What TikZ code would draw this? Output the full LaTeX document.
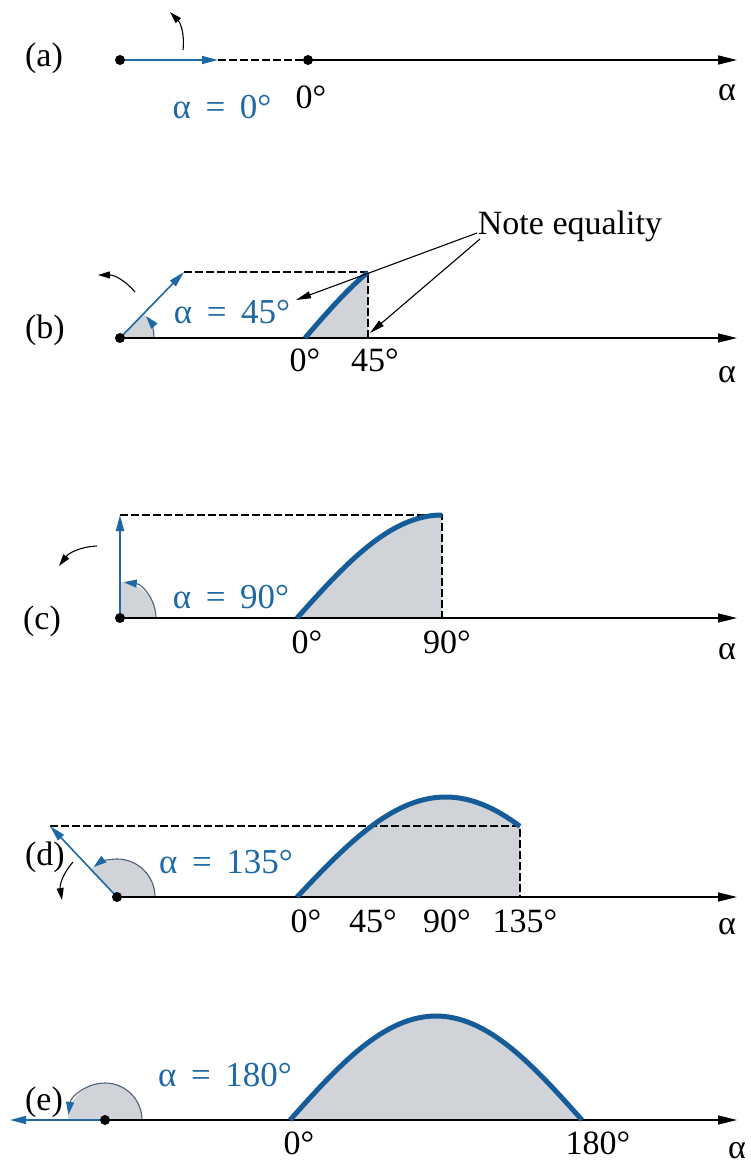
\documentclass[tikz,border=0pt]{standalone}
\usepackage{fontspec}
\setmainfont{Liberation Serif}
\usetikzlibrary{arrows.meta}
\definecolor{vblue}{RGB}{30,105,165}
\definecolor{cblue}{RGB}{22,92,152}
\definecolor{sgray}{RGB}{208,211,215}
\definecolor{arcc}{RGB}{80,95,115}
\newcommand{\eqsp}{\hspace{0.42em}=\hspace{0.42em}}
\begin{document}
\begin{tikzpicture}[x=1pt,y=1pt,
  lbl/.style={font=\fontsize{34}{40}\selectfont, inner sep=0pt},
  blbl/.style={font=\fontsize{35}{40}\selectfont, inner sep=0pt, text=vblue},
  axis/.style={line width=1.6pt, -{Triangle[length=19pt,width=9pt]}},
  vec/.style={vblue, line width=1.6pt, -{Triangle[length=16pt,width=8pt]}},
  dsh/.style={line width=1.1pt, dash pattern=on 8pt off 3pt},
  wave/.style={cblue, line width=5pt},
  shade/.style={fill=sgray},
  dot/.style={circle, fill=black, inner sep=0pt, minimum size=10pt},
  rot/.style={line width=1.1pt, -{Triangle[length=12pt,width=7pt]}, bend right=25},
  ann/.style={line width=1.1pt, -{Triangle[length=15pt,width=7pt]}},
  arcl/.style={arcc, line width=1.1pt, -{Triangle[length=13pt,width=8pt,color=vblue]}}
]
\useasboundingbox (0,-1165) rectangle (751,0);

% ---------- (a) ----------
\coordinate (Oa) at (120,-60);
\coordinate (Za) at (308,-60);
\coordinate (Va) at (218,-60);
\coordinate (Ea) at (737,-60);
\draw[dsh] (Va) -- (Za);
\draw[axis] (Za) -- (Ea);
\draw[vec] (Oa) -- (Va);
\node[dot] (dA1) at (Oa) {};
\node[dot] (dA2) at (Za) {};
\node[lbl] (la) at (44,-58) {(a)};
\node[blbl] (ala) at (222,-107) {α\eqsp 0°};
\node[lbl] (za) at (311,-97) {0°};
\node[lbl] (xa) at (727,-93) {α};
\coordinate (ra1) at (183,-50);
\coordinate (ra2) at (170,-12);
\draw[rot] (ra1) to (ra2);

% ---------- (b) ----------
\coordinate (Ob) at (120,-338);
\coordinate (Vb) at (184,-272);
\coordinate (Pb) at (368,-272);
\coordinate (Fb) at (368,-338);
\coordinate (Zb) at (305,-338);
\coordinate (Eb) at (737,-338);
\fill[shade] (Zb) -- plot[domain=0:45,samples=30] ({305+\x/45*63},{-338+93*sin(\x)}) -- (Fb) -- cycle;
\fill[shade] (Ob) -- ++(0:34) arc[start angle=0,end angle=45,radius=34] -- cycle;
\draw[arcl] (Ob) ++(0:34) arc[start angle=0,end angle=40,radius=34];
\draw[dsh] (Vb) -- (Pb) -- (Fb);
\draw[axis] (Ob) -- (Eb);
\draw[wave] plot[domain=0:45,samples=30] ({305+\x/45*63},{-338+93*sin(\x)});
\draw[vec] (Ob) -- (Vb);
\node[dot] (dB) at (Ob) {};
\node[lbl] (lb) at (45,-330) {(b)};
\node[blbl] (alb) at (232,-312) {α\eqsp 45°};
\node[lbl] (zb) at (305,-360) {0°};
\node[lbl] (fb) at (375,-360) {45°};
\node[lbl] (xb) at (727,-375) {α};
\coordinate (rb1) at (135,-292);
\coordinate (rb2) at (98,-275);
\draw[rot] (rb1) to (rb2);
\node[lbl] (ne) at (570,-226) {Note equality};
\coordinate (n1) at (477,-233);
\coordinate (n2) at (480,-239);
\coordinate (t1) at (296,-300);
\coordinate (t2) at (370,-333);
\draw[ann] (n1) -- (t1);
\draw[ann] (n2) -- (t2);

% ---------- (c) ----------
\coordinate (Oc) at (120,-618);
\coordinate (Vc) at (120,-515);
\coordinate (Pc) at (442,-515);
\coordinate (Fc) at (442,-618);
\coordinate (Zc) at (297,-618);
\coordinate (Ec) at (737,-618);
\fill[shade] (Zc) -- plot[domain=0:90,samples=40] ({297+\x/90*145},{-618+103*sin(\x)}) -- (Fc) -- cycle;
\fill[shade] (Oc) -- ++(0:36) arc[start angle=0,end angle=90,radius=36] -- cycle;
\draw[arcl] (Oc) ++(0:36) arc[start angle=0,end angle=84,radius=36];
\draw[dsh] (Vc) -- (Pc) -- (Fc);
\draw[axis] (Oc) -- (Ec);
\draw[wave] plot[domain=0:90,samples=40] ({297+\x/90*145},{-618+103*sin(\x)});
\draw[vec] (Oc) -- (Vc);
\node[dot] (dC) at (Oc) {};
\node[lbl] (lc) at (42,-621) {(c)};
\node[blbl] (alc) at (231,-597) {α\eqsp 90°};
\node[lbl] (zc) at (307,-642) {0°};
\node[lbl] (nc) at (447,-642) {90°};
\node[lbl] (xc) at (727,-652) {α};
\coordinate (rc1) at (97,-546);
\coordinate (rc2) at (59,-566);
\draw[rot] (rc1) to (rc2);

% ---------- (d) ----------
\coordinate (Od) at (117,-897);
\coordinate (Vd) at (50,-826);
\coordinate (Pd) at (520,-826);
\coordinate (Fd) at (520,-897);
\coordinate (Zd) at (297,-897);
\coordinate (Ed) at (737,-897);
\fill[shade] (Zd) -- plot[domain=0:135,samples=50] ({297+\x/135*223},{-897+100*sin(\x)}) -- (Fd) -- cycle;
\fill[shade] (Od) -- ++(0:38) arc[start angle=0,end angle=135,radius=38] -- cycle;
\draw[arcl] (Od) ++(0:38) arc[start angle=0,end angle=128,radius=38];
\draw[dsh] (Vd) -- (Pd) -- (Fd);
\draw[axis] (Od) -- (Ed);
\draw[wave] plot[domain=0:135,samples=50] ({297+\x/135*223},{-897+100*sin(\x)});
\draw[vec] (Od) -- (Vd);
\node[dot] (dD) at (Od) {};
\node[lbl] (ld) at (45,-857) {(d)};
\node[blbl] (ald) at (226,-862) {α\eqsp 135°};
\node[lbl] (zd) at (306,-921) {0°};
\node[lbl] (fd) at (373,-921) {45°};
\node[lbl] (nd) at (447,-921) {90°};
\node[lbl] (td) at (525,-921) {135°};
\node[lbl] (xd) at (727,-927) {α};
\coordinate (rd1) at (73,-862);
\coordinate (rd2) at (62,-900);
\draw[rot] (rd1) to (rd2);

% ---------- (e) ----------
\coordinate (Oe) at (105,-1120);
\coordinate (Ve) at (10,-1120);
\coordinate (Ze) at (290,-1120);
\coordinate (Fe) at (582,-1120);
\coordinate (Ee) at (737,-1120);
\fill[shade] (Ze) -- plot[domain=0:180,samples=60] ({290+\x/180*292},{-1120+104*sin(\x)}) -- (Fe) -- cycle;
\fill[shade] (Oe) -- ++(0:37) arc[start angle=0,end angle=180,radius=37] -- cycle;
\draw[arcl] (Oe) ++(0:37) arc[start angle=0,end angle=172,radius=37];
\draw[axis] (Oe) -- (Ee);
\draw[wave] plot[domain=0:180,samples=60] ({290+\x/180*292},{-1120+104*sin(\x)});
\draw[vec] (Oe) -- (Ve);
\node[dot] (dE) at (Oe) {};
\node[lbl] (le) at (44,-1102) {(e)};
\node[blbl] (ale) at (225,-1075) {α\eqsp 180°};
\node[lbl] (ze) at (299,-1143) {0°};
\node[lbl] (ee) at (598,-1143) {180°};
\node[lbl] (xe) at (737,-1151) {α};
\end{tikzpicture}
\end{document}
